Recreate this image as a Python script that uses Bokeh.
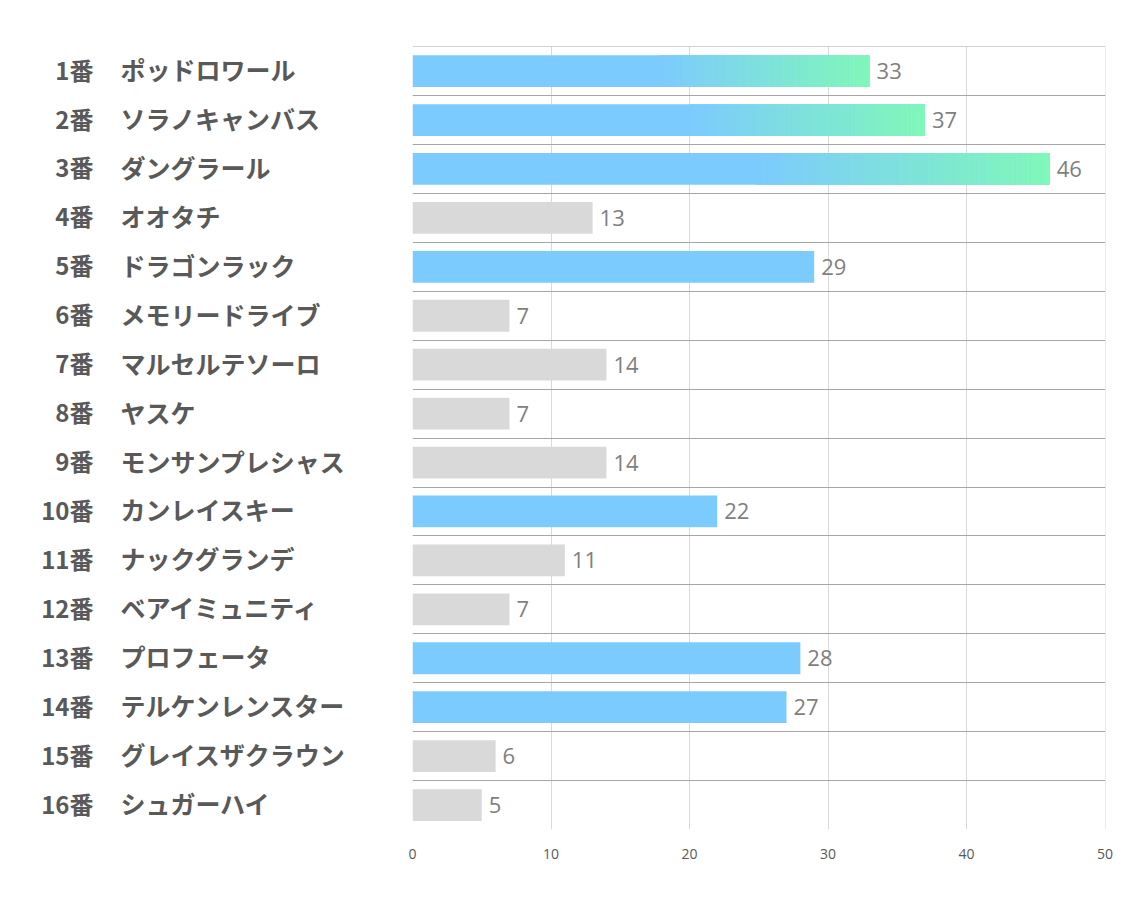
from bokeh.plotting import figure
from bokeh.layouts import row
from bokeh.models import FixedTicker, ColumnDataSource, Range1d
from bokeh.core.properties import value
from bokeh.embed import file_html
from bokeh.resources import INLINE

numbers = ["1番", "2番", "3番", "4番", "5番", "6番", "7番", "8番",
           "9番", "10番", "11番", "12番", "13番", "14番", "15番", "16番"]
names = ["ポッドロワール", "ソラノキャンバス", "ダングラール", "オオタチ",
         "ドラゴンラック", "メモリードライブ", "マルセルテソーロ", "ヤスケ",
         "モンサンプレシャス", "カンレイスキー", "ナックグランデ", "ベアイミュニティ",
         "プロフェータ", "テルケンレンスター", "グレイスザクラウン", "シュガーハイ"]
values = [33, 37, 46, 13, 29, 7, 14, 7, 14, 22, 11, 7, 28, 27, 6, 5]
kinds = ["top", "top", "top", "gray", "blue", "gray", "gray", "gray",
         "gray", "blue", "gray", "gray", "blue", "blue", "gray", "gray"]
x_ticks = [0, 10, 20, 30, 40, 50]

BLUE = (124, 203, 254)
GREEN = (128, 248, 184)
GRAY = "#d9d9d9"

n = len(values)
ys = list(range(1, n + 1))
y_range = Range1d(n + 0.5, 0.497)

H = 890
TOP = 46
BOTTOM = 61
LEFT_W = 402

# ---------- left label panel ----------
lf = figure(width=LEFT_W, height=H, x_range=Range1d(0, LEFT_W), y_range=y_range,
            output_backend="svg", toolbar_location=None,
            min_border_top=TOP, min_border_bottom=BOTTOM,
            min_border_left=0, min_border_right=0)
lf.axis.visible = False
lf.grid.visible = False
lf.outline_line_color = None
lf.text(x=[93] * n, y=ys, text=numbers, text_align="right", text_baseline="middle",
        y_offset=-2,
        text_font=value("Noto Sans CJK JP"), text_font_style="bold",
        text_font_size="24px", text_color="#595959")
lf.text(x=[120] * n, y=ys, text=names, text_align="left", text_baseline="middle",
        y_offset=-2,
        text_font=value("Noto Sans CJK JP"), text_font_style="bold",
        text_font_size="25px", text_color="#595959")

# ---------- main chart ----------
p = figure(width=723, height=H, x_range=Range1d(0, 50.03), y_range=y_range,
           output_backend="svg", toolbar_location=None,
           min_border_top=TOP, min_border_bottom=BOTTOM,
           min_border_left=10, min_border_right=20)
p.outline_line_color = None
p.yaxis.visible = False

p.xaxis.ticker = FixedTicker(ticks=x_ticks)
p.xaxis.axis_line_color = None
p.xaxis.major_tick_line_color = None
p.xaxis.minor_tick_line_color = None
p.xaxis.major_label_standoff = 13
p.xaxis.major_label_text_font = "Open Sans"
p.xaxis.major_label_text_font_size = "14px"
p.xaxis.major_label_text_color = "#595959"

p.xgrid.ticker = FixedTicker(ticks=x_ticks)
p.xgrid.grid_line_color = "#d9d9d9"
p.xgrid.grid_line_width = 1
p.ygrid.ticker = FixedTicker(ticks=[i + 0.5 for i in range(0, n + 1)])
p.ygrid.grid_line_color = "#a6a6a6"
p.ygrid.grid_line_width = 1

def hexc(c):
    return "#%02x%02x%02x" % tuple(int(round(v)) for v in c)

colors = [GRAY if k == "gray" else hexc(BLUE) for k in kinds]
src = ColumnDataSource(dict(y=ys, right=values, color=colors))
p.hbar(y="y", left=0, right="right", height=0.65, fill_color="color",
       line_color=None, source=src)

# gradient overlay for top bars
F0 = 0.54
NSEG = 60
gl, gr, gy, gc = [], [], [], []
for yv, v, k in zip(ys, values, kinds):
    if k != "top":
        continue
    for i in range(NSEG):
        a = F0 + (1 - F0) * i / NSEG
        b = F0 + (1 - F0) * (i + 1) / NSEG
        t = (i + 0.5) / NSEG
        col = tuple(BLUE[j] + (GREEN[j] - BLUE[j]) * t for j in range(3))
        gl.append(v * a)
        gr.append(v * b + (0.02 if i < NSEG - 1 else 0))
        gy.append(yv)
        gc.append(hexc(col))
p.hbar(y=gy, left=gl, right=gr, height=0.65, fill_color=gc, line_color=None)

p.text(x=values, y=ys, text=[str(v) for v in values], x_offset=7,
       text_align="left", text_baseline="middle",
       text_font=value("Open Sans"), text_font_size="22px", text_color="#7f7f7f")

layout = row(lf, p)
open("out.html", "w").write(file_html(layout, INLINE))
